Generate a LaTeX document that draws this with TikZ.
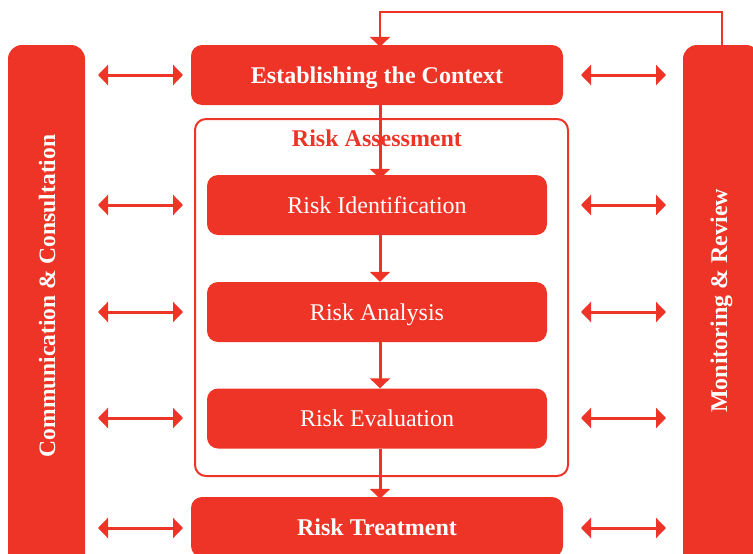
\documentclass[tikz,border=0pt]{standalone}
\usepackage{fontspec}
\setmainfont{Liberation Serif}
\usetikzlibrary{arrows.meta,positioning}

\definecolor{riskred}{RGB}{238,52,39}

\begin{document}
\begin{tikzpicture}[x=1pt,y=-1pt,
  step box/.style={fill=riskred, rounded corners=11pt, text=white, minimum width=340pt, minimum height=60pt, inner sep=0pt, text height=19pt, text depth=3pt, font=\fontsize{24}{28}\selectfont},
  main box/.style={step box, minimum width=372pt, font=\fontsize{24}{28}\selectfont\bfseries},
  side bar/.style={fill=riskred, rounded corners=14pt, text=white, minimum width=77pt, minimum height=540pt, inner sep=0pt, font=\fontsize{24}{28}\selectfont\bfseries},
  link/.style={riskred, line width=3pt, -{Triangle[length=10pt,width=20pt]}},
  both/.style={riskred, line width=3pt, {Triangle[length=10pt,width=20pt]}-{Triangle[length=10pt,width=20pt]}}
]
\useasboundingbox (0,0) rectangle (753,554);
\clip (0,0) rectangle (753,554);

% side bars
\node[side bar] (comm) at (46.5,315) {};
\node[side bar] (monitor) at (721.5,315) {};
\node[rotate=90, text=white, font=\fontsize{23.5}{28}\selectfont\bfseries] (commtxt) at (47,296) {Communication \& Consultation};
\node[rotate=90, text=white, font=\fontsize{24}{28}\selectfont\bfseries] (montxt) at (721.5,301) {Monitoring \& Review};

% process boxes
\node[main box] (ctx) at (377,75) {Establishing the Context};
\node[draw=riskred, line width=2pt, rounded corners=11pt, minimum width=373pt, minimum height=357pt, inner sep=0pt] (assess) at (381.5,297.5) {};
\node[text=riskred, font=\fontsize{24}{28}\selectfont\bfseries] (assesstxt) at (377,138) {Risk Assessment};
\node[step box] (ident) at (377,205) {Risk Identification};
\node[step box] (analysis) at (377,312) {Risk Analysis};
\node[step box] (evaluation) at (377,418.5) {Risk Evaluation};
\node[main box] (treat) at (377,527) {Risk Treatment};

% flow
\draw[link] (ctx.south -| 380,0) -- ([yshift=-4pt]ident.north -| 380,0);
\draw[link] (ident.south -| 380,0) -- (analysis.north -| 380,0);
\draw[link] (analysis.south -| 380,0) -- (evaluation.north -| 380,0);
\draw[link] (evaluation.south -| 380,0) -- ([yshift=-2pt]treat.north -| 380,0);
\coordinate (loopR) at (722,12);
\coordinate (loopL) at (380,12);
\draw[link, line width=2.5pt] (monitor.north -| loopR) -- (loopR) -- (loopL) -- ([yshift=-2pt]ctx.north -| loopL);

% two-way links
\foreach \y in {75,205,312,418,528} {
  \coordinate (l1) at (98,\y);  \coordinate (l2) at (183,\y);
  \coordinate (r1) at (581,\y); \coordinate (r2) at (666,\y);
  \draw[both] (l1) -- (l2);
  \draw[both] (r1) -- (r2);
}
\end{tikzpicture}
\end{document}
